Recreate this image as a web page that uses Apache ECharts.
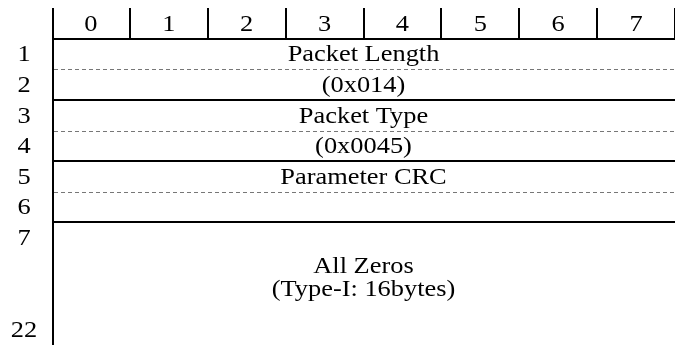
<!DOCTYPE html>
<html><head><meta charset="utf-8">
<script src="https://cdn.jsdelivr.net/npm/echarts@6/dist/echarts.min.js"></script>
<style>html,body{margin:0;padding:0;background:#fff}#c{width:675px;height:345px}</style></head>
<body><div id="c"></div><script>
const bitLabels = ['0','1','2','3','4','5','6','7'];
const rowLabels = ['1','2','3','4','5','6','7','22'];
const rowSlots = [1,2,3,4,5,6,7,10];
const fieldNames = ['Packet Length','Packet Type','Parameter CRC','All Zeros'];
const fieldValues = ['(0x014)','(0x0045)','','(Type-I: 16bytes)'];
const fieldStartRow = [1,3,5,7];
const fieldRowSpan = [2,2,2,4];

const BITS = bitLabels.length, TOTAL_ROWS = 11;
const FONT = '24px "Liberation Serif", "Times New Roman", serif';
const SX = 1.1;
function txt(x, y, s) {
  return {type:'text', x:x, y:y, scaleX:SX, style:{x:0, y:0, text:s, font:FONT, fill:'#000', align:'center', verticalAlign:'middle'}};
}
function solid(x1,y1,x2,y2){return {type:'line', shape:{x1,y1,x2,y2}, style:{stroke:'#000', lineWidth:2}};}
function dashed(x1,y1,x2,y2){return {type:'line', shape:{x1,y1,x2,y2}, style:{stroke:'#777', lineWidth:1, lineDash:[4,3]}};}

const chart = echarts.init(document.getElementById('c'), null, {renderer:'canvas'});
chart.setOption({
  animation:false,
  grid:{left:52, top:8, width:632, height:341},
  xAxis:{type:'value', min:0, max:BITS, show:false},
  yAxis:{type:'value', min:0, max:TOTAL_ROWS, inverse:true, show:false},
  series:[
    { // header bits
      type:'custom', clip:false, silent:true,
      data: bitLabels.map((b,i)=>[i]),
      renderItem:function(params, api){
        const k = api.value(0);
        const c = api.coord([k+0.5, 0.5]);
        const a = api.coord([k+1, 0]);
        const b = api.coord([k+1, 1]);
        const ch = [txt(c[0], c[1]+1, bitLabels[k]), solid(Math.round(a[0]), a[1], Math.round(b[0]), b[1])];
        if (k === 0) {
          const t = api.coord([0,0]), bt = api.coord([0,TOTAL_ROWS]);
          ch.push(solid(t[0]+1, t[1], bt[0]+1, bt[1]));
        }
        return {type:'group', children:ch};
      }
    },
    { // row labels
      type:'custom', clip:false, silent:true,
      data: rowSlots.map((s,i)=>[i, s]),
      renderItem:function(params, api){
        const i = api.value(0), s = api.value(1);
        const c = api.coord([0, s+0.5]);
        return txt(c[0]-28, c[1]+1, rowLabels[i]);
      }
    },
    { // fields
      type:'custom', clip:false, silent:true,
      data: fieldNames.map((n,i)=>[i, fieldStartRow[i], fieldRowSpan[i]]),
      renderItem:function(params, api){
        const i = api.value(0), s = api.value(1), span = api.value(2);
        const tl = api.coord([0, s]), tr = api.coord([BITS, s]);
        const ch = [solid(tl[0], Math.round(tl[1]), tr[0], Math.round(tr[1]))];
        const cx = (tl[0]+tr[0])/2;
        if (span === 2) {
          const m = api.coord([0, s+1]);
          ch.push(dashed(tl[0]+2, Math.round(m[1])+0.5, tr[0], Math.round(m[1])+0.5));
          const r1 = api.coord([0, s+0.5]), r2 = api.coord([0, s+1.5]);
          ch.push(txt(cx, r1[1]+1, fieldNames[i]));
          if (fieldValues[i]) ch.push(txt(cx, r2[1]+1, fieldValues[i]));
        } else {
          const r1 = api.coord([0, s+1.45]), r2 = api.coord([0, s+2.2]);
          ch.push(txt(cx, r1[1], fieldNames[i]));
          if (fieldValues[i]) ch.push(txt(cx, r2[1], fieldValues[i]));
        }
        return {type:'group', children:ch};
      }
    }
  ]
});
</script></body></html>
